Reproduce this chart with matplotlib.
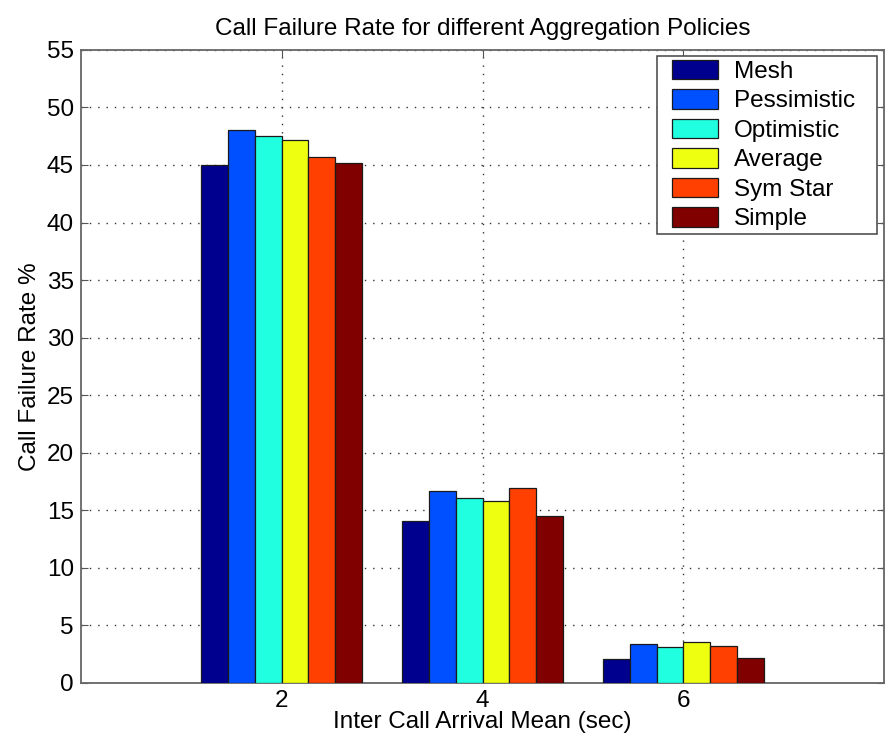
import matplotlib
matplotlib.use("Agg")
import matplotlib.pyplot as plt
import numpy as np
from matplotlib.container import BarContainer
from matplotlib.legend_handler import HandlerPatch, update_from_first_child

plt.rcParams['font.family'] = ['Liberation Sans', 'DejaVu Sans']

# inter call arrival means (sec) and failure rates (%) per aggregation policy
arrival_means = [2, 4, 6]
policies = ["Mesh", "Pessimistic", "Optimistic", "Average", "Sym Star", "Simple"]
mesh = [45.0, 14.1, 2.1]
pessimistic = [48.0, 16.7, 3.35]
optimistic = [47.5, 16.1, 3.1]
average = [47.2, 15.8, 3.55]
sym_star = [45.7, 16.9, 3.2]
simple = [45.2, 14.5, 2.2]
series = [mesh, pessimistic, optimistic, average, sym_star, simple]

# matlab jet(64) entries picked by bar() for six series
colors = [(0, 0, 0.5625), (0, 0.3125, 1), (0.125, 1, 0.875),
          (0.9375, 1, 0.0625), (1, 0.25, 0), (0.5, 0, 0)]

FS = 17.5

fig = plt.figure(figsize=(8.88, 7.44), dpi=100)
ax = fig.add_axes([0.0909, 0.082, 0.905, 0.851])

# matlab-style grouped bars: group spans 0.8 of the x spacing
spacing = arrival_means[1] - arrival_means[0]
group_w = 0.8 * spacing
bar_w = group_w / len(series)
x = np.array(arrival_means, dtype=float)
for i, (vals, name) in enumerate(zip(series, policies)):
    offs = -group_w / 2 + bar_w * (i + 0.5)
    ax.bar(x + offs, vals, width=bar_w, color=colors[i], edgecolor="#1a1a1a",
           linewidth=0.9, label=name, zorder=3)

ax.set_xlim(0, 8)
ax.set_ylim(0, 55)
ax.set_xticks(arrival_means)
ax.set_yticks(np.arange(0, 56, 5))
ax.grid(True, linestyle=(0, (1, 5)), color="#333333", linewidth=1.0, zorder=0)
ax.tick_params(direction="in", top=True, right=True, labelsize=FS, length=5,
               color="#555555", pad=5)
for s in ax.spines.values():
    s.set_color("#666666")
    s.set_linewidth(1.3)

ax.set_title("Call Failure Rate for different Aggregation Policies", fontsize=FS, pad=11)
ax.set_xlabel("Inter Call Arrival Mean (sec)", fontsize=FS, labelpad=-1)
ax.set_ylabel("Call Failure Rate %", fontsize=FS, labelpad=4)

# swatches inset from the left edge, box stretched to a fixed width
swatch = HandlerPatch(xpad=0.45, update_func=update_from_first_child)
leg = ax.legend(loc="upper right", bbox_to_anchor=(0.7174, 0.9905, 0.2739, 0),
                mode="expand", fontsize=FS, handler_map={BarContainer: swatch},
                fancybox=False, framealpha=1, edgecolor="#444444",
                handlelength=2.35, handleheight=0.86, labelspacing=0.26,
                borderpad=0.15, handletextpad=0.64, borderaxespad=0)
leg.get_frame().set_linewidth(1.1)

fig.savefig("out.png", dpi=100)
